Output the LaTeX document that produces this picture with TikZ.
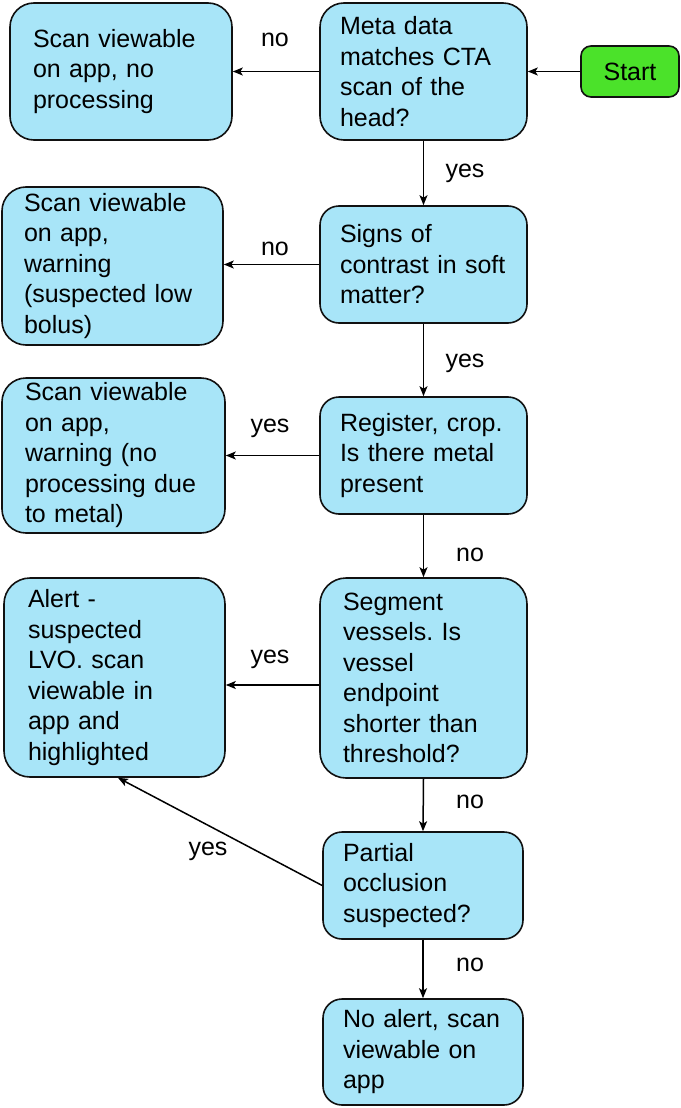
\documentclass[tikz,border=0pt]{standalone}
\usepackage{fontspec}
\setmainfont{Liberation Sans}
\usetikzlibrary{arrows.meta}
\frenchspacing
\definecolor{boxblue}{HTML}{A8E5F8}
\definecolor{boxgreen}{HTML}{4BE22A}
\definecolor{edge}{HTML}{111111}
\tikzset{
  flowbox/.style={draw=edge, line width=1.6pt, fill=boxblue, align=left,
    inner ysep=0pt, font=\fontsize{25pt}{30.5pt}\selectfont\frenchspacing, text=black},
  startbox/.style={draw=edge, line width=1.6pt, fill=boxgreen, rounded corners=10pt,
    minimum width=98pt, minimum height=51pt, inner sep=0pt,
    font=\fontsize{25pt}{30.5pt}\selectfont, text=black},
  arr/.style={draw=black, line width=1.5pt, -{Stealth[length=10pt,width=8pt,inset=2.5pt]}},
  lbl/.style={anchor=base, inner sep=0pt, font=\fontsize{25pt}{30.5pt}\selectfont, text=black}
}
\begin{document}
\begin{tikzpicture}[x=1pt,y=-1pt]
\useasboundingbox (0,0) rectangle (680,1108);

% boxes
\node[flowbox, rounded corners=24pt, text width=176pt, inner xsep=23pt, minimum height=137pt] (A) at (121,71.5)
  {Scan viewable\\on app, no\\processing};
\node[flowbox, rounded corners=24pt, text width=167pt, inner xsep=20pt, minimum height=137pt] (B) at (423.5,71.5)
  {Meta data\\matches CTA\\scan of the\\head?};
\node[startbox] (S) at (630,71.5) {Start};

\node[flowbox, rounded corners=24pt, text width=177pt, inner xsep=22pt, minimum height=158pt] (C) at (112.5,266)
  {Scan viewable\\on app,\\warning\\(suspected low\\bolus)};
\node[flowbox, rounded corners=19pt, text width=167pt, inner xsep=20pt, minimum height=117pt] (D) at (423.5,264.5)
  {Signs of\\contrast in~soft\\matter?};

\node[flowbox, rounded corners=24pt, text width=177pt, inner xsep=23pt, minimum height=155pt] (E) at (113.5,455.5)
  {Scan viewable\\on app,\\warning (no\\processing due\\to metal)};
\node[flowbox, rounded corners=19pt, text width=167pt, inner xsep=20pt, minimum height=117pt] (F) at (423.5,455.5)
  {Register, crop.\\Is there metal\\present};

\node[flowbox, rounded corners=26pt, text width=173pt, inner xsep=24pt, minimum height=199pt] (G) at (114.5,677.5)
  {Alert -\\suspected\\LVO. scan\\viewable in\\app and\\highlighted};
\node[flowbox, rounded corners=26pt, text width=161pt, inner xsep=23pt, minimum height=200pt] (H) at (423.5,678)
  {Segment\\vessels. Is\\vessel\\endpoint\\shorter than\\threshold?};

\node[flowbox, rounded corners=19pt, text width=160pt, inner xsep=20pt, minimum height=107pt] (I) at (423,885.5)
  {Partial\\occlusion\\suspected?};
\node[flowbox, rounded corners=19pt, text width=160pt, inner xsep=20pt, minimum height=106pt] (J) at (423,1052)
  {No alert, scan\\viewable on\\app};

% connectors
\draw[arr] (S.west) -- (B.east);
\draw[arr] (B.west) -- (B.west -| A.east);
\draw[arr] (B.south) -- (D.north);
\draw[arr] (D.west) -- (D.west -| C.east);
\draw[arr] (D.south) -- (F.north);
\draw[arr] (F.west) -- (F.west -| E.east);
\draw[arr] (F.south) -- (H.north);
\draw[arr] ([yshift=-7pt]H.west) -- ([yshift=-7pt]H.west -| G.east);
\draw[arr] (H.south) -- (I.north);
\draw[arr] (I.west) -- ([xshift=3.5pt]G.south);
\draw[arr] (I.south) -- (J.north);

% labels
\node[lbl] (l1) at (275,47) {no};
\node[lbl] (l2) at (465,177) {yes};
\node[lbl] (l3) at (275,255) {no};
\node[lbl] (l4) at (465,367) {yes};
\node[lbl] (l5) at (270,432) {yes};
\node[lbl] (l6) at (470,561) {no};
\node[lbl] (l7) at (270,663) {yes};
\node[lbl] (l8) at (470,808) {no};
\node[lbl] (l9) at (208,855) {yes};
\node[lbl] (l10) at (470,971) {no};
\end{tikzpicture}
\end{document}
